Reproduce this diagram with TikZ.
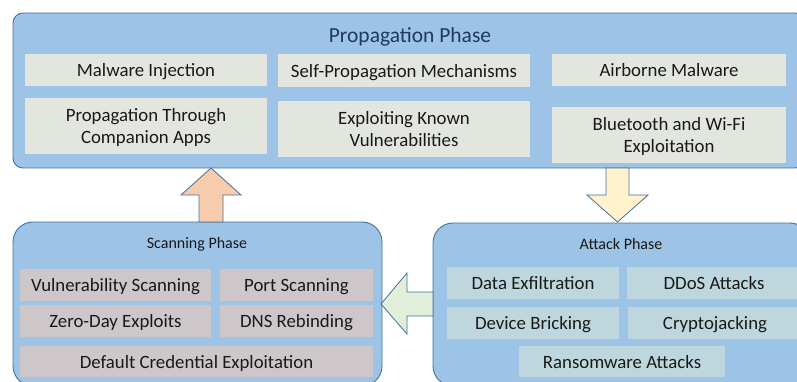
\documentclass[tikz,border=0pt]{standalone}
\usepackage{fontspec}
\setmainfont{Carlito}
\begin{document}
\definecolor{phasefill}{HTML}{9DC3E6}
\definecolor{phaseline}{HTML}{41719C}
\definecolor{titleblue}{HTML}{1F3864}
\definecolor{propitem}{HTML}{E2E6DF}
\definecolor{scanitem}{HTML}{CDC7CA}
\definecolor{attackitem}{HTML}{BED7DE}
\definecolor{uparrow}{HTML}{F8CBAD}
\definecolor{downarrow}{HTML}{FFF2CC}
\definecolor{leftarrow}{HTML}{E2EFDA}
\tikzset{
  phasebox/.style={draw=phaseline, fill=phasefill, line width=0.9pt, inner sep=0pt},
  itembox/.style={inner sep=0pt, align=center, text=black!90, text depth=0pt,
    font=\fontsize{18.8}{22.5}\selectfont},
  phasetitle/.style={text=black!90, text depth=0pt, font=\fontsize{16}{19}\selectfont},
  blockarrow/.style={draw=phaseline, line width=0.8pt, line join=miter},
}
\begin{tikzpicture}[x=1pt,y=-1pt]
\useasboundingbox (0,0) rectangle (797,382);
\clip (0,0) rectangle (797,382);

% propagation phase
\node[phasebox, rounded corners=10pt, minimum width=792pt, minimum height=155pt]
  (prop) at (409,90.5) {};
\node[text=titleblue, text depth=0pt, font=\fontsize{21.5}{25}\selectfont] (proptitle) at (410,35) {Propagation Phase};
\node[itembox, fill=propitem, minimum width=242pt, minimum height=32pt] (p1) at (146,70) {Malware Injection};
\node[itembox, fill=propitem, minimum width=252pt, minimum height=33pt] (p2) at (404,70.5) {Self-Propagation Mechanisms};
\node[itembox, fill=propitem, minimum width=234pt, minimum height=32pt] (p3) at (669,70) {Airborne Malware};
\node[itembox, fill=propitem, minimum width=242pt, minimum height=56pt] (p4) at (146,126) {Propagation Through\\Companion Apps};
\node[itembox, fill=propitem, minimum width=252pt, minimum height=56pt] (p5) at (404,129) {Exploiting Known\\Vulnerabilities};
\node[itembox, fill=propitem, minimum width=234pt, minimum height=56pt] (p6) at (669,135) {Bluetooth and Wi-Fi\\Exploitation};

% scanning phase
\node[phasebox, rounded corners=20pt, minimum width=369pt, minimum height=164pt]
  (scan) at (197.5,304) {};
\node[phasetitle] (scantitle) at (197,243) {Scanning Phase};
\node[itembox, fill=scanitem, minimum width=191pt, minimum height=32pt] (s1) at (115.5,285) {Vulnerability Scanning};
\node[itembox, fill=scanitem, minimum width=153pt, minimum height=32pt] (s2) at (296.5,285) {Port Scanning};
\node[itembox, fill=scanitem, minimum width=191pt, minimum height=32pt] (s3) at (115.5,321) {Zero-Day Exploits};
\node[itembox, fill=scanitem, minimum width=153pt, minimum height=32pt] (s4) at (296.5,321) {DNS Rebinding};
\node[itembox, fill=scanitem, minimum width=353pt, minimum height=31pt] (s5) at (196.5,361.5) {Default Credential Exploitation};

% attack phase
\node[phasebox, rounded corners=20pt, minimum width=377pt, minimum height=163pt]
  (attack) at (621.5,304.5) {};
\node[phasetitle] (attacktitle) at (621,244) {Attack Phase};
\node[itembox, fill=attackitem, minimum width=172pt, minimum height=32pt] (a1) at (533,283) {Data Exfiltration};
\node[itembox, fill=attackitem, minimum width=174pt, minimum height=32pt] (a2) at (714,283) {DDoS Attacks};
\node[itembox, fill=attackitem, minimum width=172pt, minimum height=32pt] (a3) at (533,323) {Device Bricking};
\node[itembox, fill=attackitem, minimum width=174pt, minimum height=32pt] (a4) at (715,323) {Cryptojacking};
\node[itembox, fill=attackitem, minimum width=206pt, minimum height=31pt] (a5) at (622,361.5) {Ransomware Attacks};

% block arrows between the phases
\draw[blockarrow, fill=uparrow]
  (211,168) -- (241,195) -- (223,195) -- (223,222) -- (199,222) -- (199,195) -- (181,195) -- cycle;
\draw[blockarrow, fill=downarrow]
  (606,168) -- (629,168) -- (629,195) -- (648,195) -- (617.5,222) -- (587,195) -- (606,195) -- cycle;
\draw[blockarrow, fill=leftarrow]
  (381,304) -- (407,273) -- (407,292) -- (433,292) -- (433,316) -- (407,316) -- (407,334) -- cycle;
\end{tikzpicture}
\end{document}
